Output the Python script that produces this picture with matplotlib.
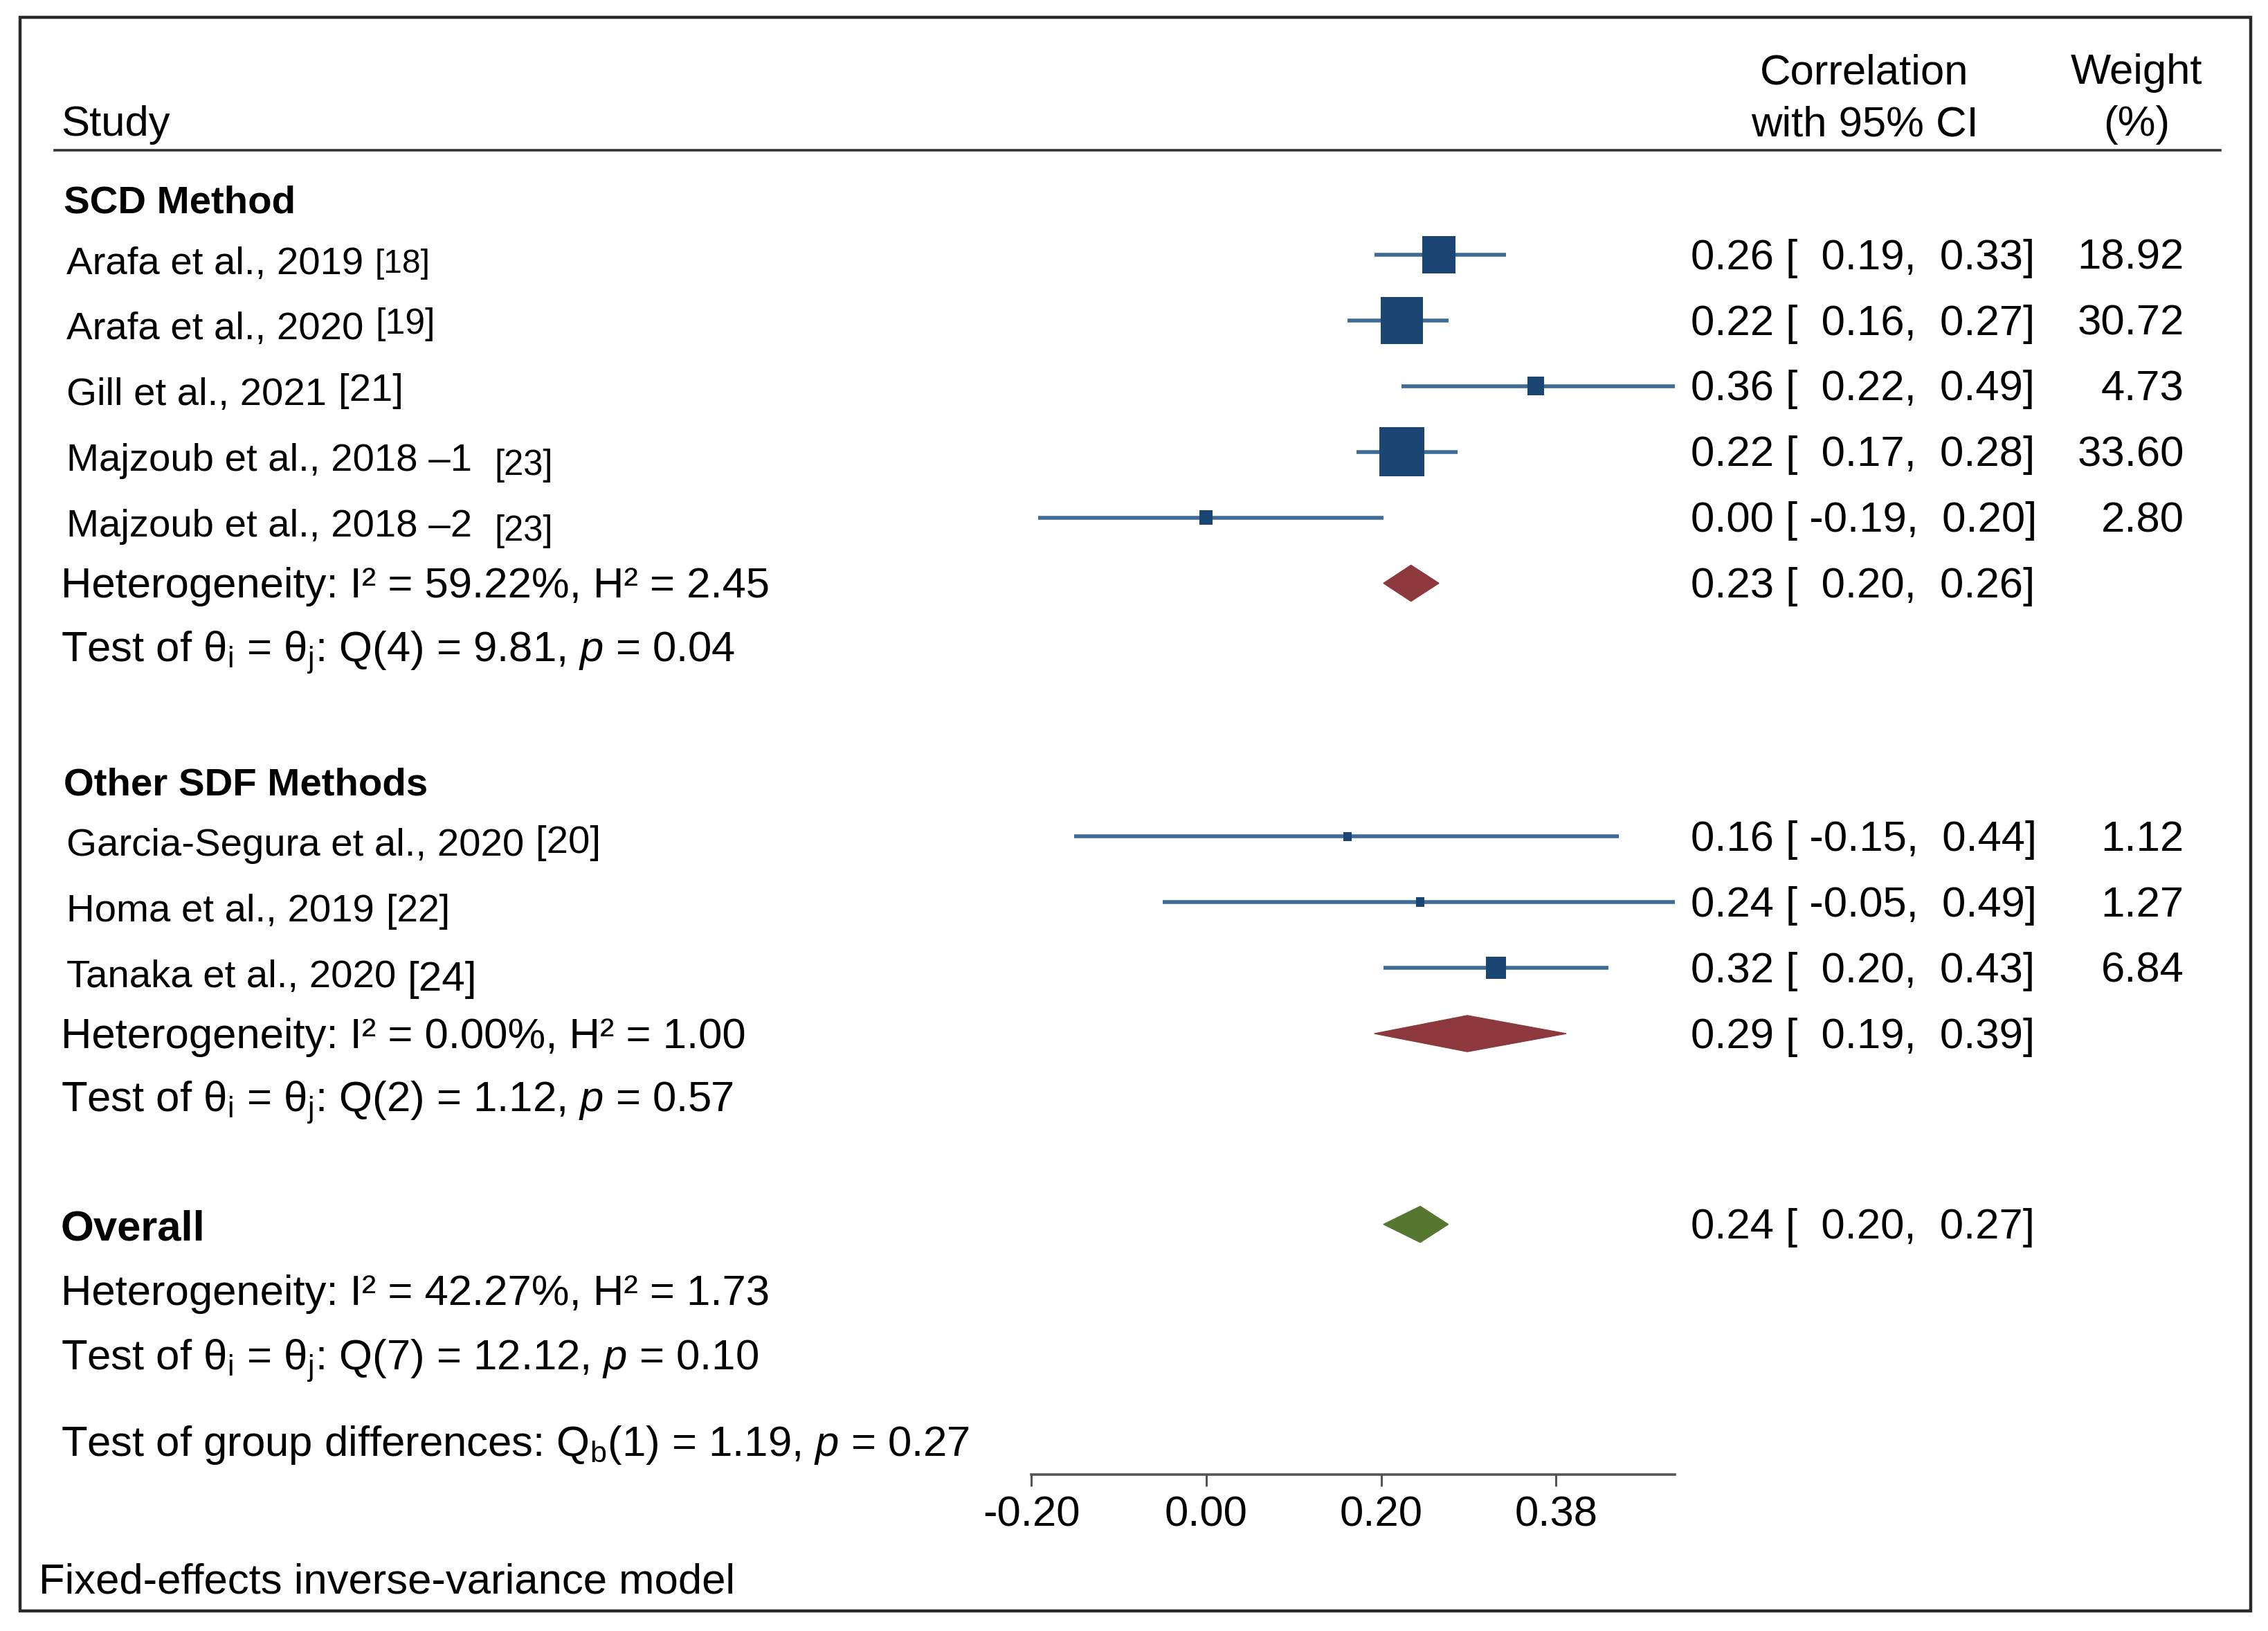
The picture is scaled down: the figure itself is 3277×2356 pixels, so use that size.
import numpy as np
import matplotlib
matplotlib.use('Agg')
import matplotlib.pyplot as plt
from matplotlib.patches import Polygon, Rectangle
from matplotlib.ticker import FormatStrFormatter

plt.rcParams['font.family'] = ['Liberation Sans', 'DejaVu Sans']
plt.rcParams['mathtext.fontset'] = 'custom'
plt.rcParams['mathtext.rm'] = 'Liberation Sans'
plt.rcParams['mathtext.it'] = 'Liberation Sans:italic'
plt.rcParams['mathtext.bf'] = 'Liberation Sans:bold'
plt.rcParams['axes.unicode_minus'] = False

# --- data -------------------------------------------------------------
scd_labels = ['Arafa et al., 2019', 'Arafa et al., 2020', 'Gill et al., 2021',
              'Majzoub et al., 2018 \u20131 ', 'Majzoub et al., 2018 \u20132 ']
scd_refs = ['[18]', '[19]', '[21]', '[23]', '[23]']
scd_r = [0.26, 0.22, 0.36, 0.22, 0.00]
scd_lo = [0.19, 0.16, 0.22, 0.17, -0.19]
scd_hi = [0.33, 0.27, 0.49, 0.28, 0.20]
scd_w = [18.92, 30.72, 4.73, 33.60, 2.80]
scd_pool = [0.23, 0.20, 0.26]
scd_het = 'Heterogeneity: I\u00b2 = 59.22%, H\u00b2 = 2.45'
scd_test = r'Test of $\mathrm{\theta}_\mathrm{i}$ = $\mathrm{\theta}_\mathrm{j}$: Q(4) = 9.81, $p$ = 0.04'

oth_labels = ['Garcia-Segura et al., 2020', 'Homa et al., 2019', 'Tanaka et al., 2020']
oth_refs = ['[20]', '[22]', '[24]']
oth_r = [0.16, 0.24, 0.32]
oth_lo = [-0.15, -0.05, 0.20]
oth_hi = [0.44, 0.49, 0.43]
oth_w = [1.12, 1.27, 6.84]
oth_pool = [0.29, 0.19, 0.39]
oth_het = 'Heterogeneity: I\u00b2 = 0.00%, H\u00b2 = 1.00'
oth_test = r'Test of $\mathrm{\theta}_\mathrm{i}$ = $\mathrm{\theta}_\mathrm{j}$: Q(2) = 1.12, $p$ = 0.57'

all_pool = [0.24, 0.20, 0.27]
all_het = 'Heterogeneity: I\u00b2 = 42.27%, H\u00b2 = 1.73'
all_test = r'Test of $\mathrm{\theta}_\mathrm{i}$ = $\mathrm{\theta}_\mathrm{j}$: Q(7) = 12.12, $p$ = 0.10'
group_test = r'Test of group differences: Q$_\mathrm{b}$(1) = 1.19, $p$ = 0.27'

tick_z = [-0.2, 0.0, 0.2, 0.4]   # ticks on Fisher z scale
footer = 'Fixed-effects inverse-variance model'

# --- layout (units = px of a 1568 x 1127 canvas) ---------------------
W, H = 1568, 1127
FS = 22.2         # stats, columns, axis
FS_LAB = 20.3     # study names and group titles
TY = 2.5          # small downward nudge for text rows
sq_col = '#1b4673'
ci_col = '#3f6b99'
red = '#8c383d'
green = '#55772f'
# (size factor, vertical shift) of the reference brackets, as typeset in the original
ref_style = {'[18]': (0.85, 0), '[19]': (0.92, -4), '[21]': (1.0, -3), '[23]': (0.9, 3),
             '[20]': (1.0, -2), '[22]': (0.98, 0), '[24]': (1.07, 2)}

fig = plt.figure(figsize=(32.77 / 2, 23.56 / 2), dpi=200)
bg = fig.add_axes([0, 0, 1, 1])
bg.set_xlim(0, W)
bg.set_ylim(H, 0)
bg.axis('off')

bg.add_patch(Rectangle((14, 12), 1542, 1101, fill=False, lw=1.6, ec='#2a2a2a'))
bg.plot([38, 1535], [104, 104], color='#333333', lw=1.3)

bg.text(42, 84 + TY, 'Study', fontsize=FS, va='center')
bg.text(1289, 48 + TY, 'Correlation', fontsize=FS, va='center', ha='center')
bg.text(1289, 84 + TY, 'with 95% CI', fontsize=FS, va='center', ha='center')
bg.text(1477, 48 + TY, 'Weight', fontsize=FS, va='center', ha='center')
bg.text(1477, 84 + TY, '(%)', fontsize=FS, va='center', ha='center')

ax = fig.add_axes([713 / W, 0, 445 / W, 1])
ax.set_facecolor('none')
ax.set_xscale('function', functions=(np.arctanh, np.tanh))
ax.set_xlim(np.tanh(-0.2), max(scd_hi + oth_hi))
ax.set_ylim(H, 0)
for s in ['top', 'left', 'right']:
    ax.spines[s].set_visible(False)
ax.spines['bottom'].set_position(('data', 1019))
ax.spines['bottom'].set_color('#555555')
ax.spines['bottom'].set_linewidth(1.3)
ax.set_xticks(np.tanh(tick_z))
ax.xaxis.set_major_formatter(FormatStrFormatter('%.2f'))
ax.tick_params(axis='x', length=6, width=1.1, color='#555555', labelsize=FS, pad=5)
ax.set_yticks([])

# slightly tall square marker, like the original
box = [(-1, -1.1), (1, -1.1), (1, 1.1), (-1, 1.1), (-1, -1.1)]

EST_X, WGT_X = 1169, 1510
STEP = 45.4
renderer = fig.canvas.get_renderer()
label_texts = []


def ci_text(r, lo, hi):
    return f'{r:.2f} [{lo:6.2f},{hi:6.2f}]'


def diamond(pool, y, color):
    r, lo, hi = pool
    h = 12.5
    ax.add_patch(Polygon([(lo, y), (r, y - h), (hi, y), (r, y + h)],
                         closed=True, fc=color, ec=color, lw=0.5))
    bg.text(EST_X, y + TY, ci_text(r, lo, hi), fontsize=FS, va='center')


def group(title, ytitle, y0, labels, refs, r, lo, hi, w, pool, het, test):
    bg.text(44, ytitle + TY, title, fontsize=FS_LAB, fontweight='bold', va='center')
    ys = [y0 + STEP * i for i in range(len(labels))]
    for lab, ref, y in zip(labels, refs, ys):
        t = bg.text(46, y + 4 + TY, lab, fontsize=FS_LAB, va='center')
        label_texts.append((t, ref, y))
    ax.hlines(ys, lo, hi, color=ci_col, lw=2.0)
    ax.scatter(r, ys, s=[19.5 * v for v in w], marker=box, color=sq_col, zorder=3,
               linewidths=0)
    for ri, l, h, wi, y in zip(r, lo, hi, w, ys):
        bg.text(EST_X, y + TY, ci_text(ri, l, h), fontsize=FS, va='center')
        bg.text(WGT_X, y + TY, f'{wi:.2f}', fontsize=FS, va='center', ha='right')
    yh = ys[-1] + STEP
    bg.text(42, yh + TY, het, fontsize=FS, va='center')
    diamond(pool, yh, red)
    bg.text(42, yh + STEP + TY, test, fontsize=FS, va='center')


group('SCD Method', 138, 176, scd_labels, scd_refs, scd_r, scd_lo, scd_hi, scd_w,
      scd_pool, scd_het, scd_test)
group('Other SDF Methods', 540, 578, oth_labels, oth_refs, oth_r, oth_lo, oth_hi, oth_w,
      oth_pool, oth_het, oth_test)

# reference numbers placed right after each study name
inv = bg.transData.inverted()
for t, ref, y in label_texts:
    bb = t.get_window_extent(renderer)
    x1 = inv.transform((bb.x1, bb.y0))[0]
    k, dy = ref_style[ref]
    bg.text(x1 + 8, y + 4 + TY + dy, ref, fontsize=FS_LAB * k, va='center')

bg.text(42, 847 + TY, 'Overall', fontsize=FS, fontweight='bold', va='center')
diamond(all_pool, 846, green)
bg.text(42, 892 + TY, all_het, fontsize=FS, va='center')
bg.text(42, 938 + TY, all_test, fontsize=FS, va='center')
bg.text(42, 996 + TY, group_test, fontsize=FS, va='center')
bg.text(27, 1091 + TY, footer, fontsize=FS, va='center')

fig.savefig('out.png', dpi=200, facecolor='white')
